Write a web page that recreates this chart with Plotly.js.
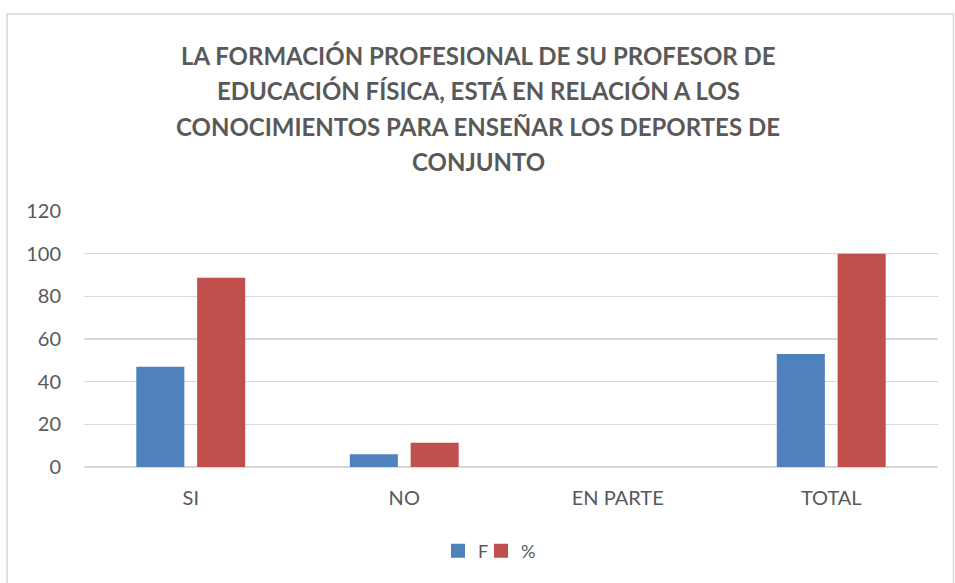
<!DOCTYPE html>
<html><head><meta charset="utf-8">
<script src="https://cdn.plot.ly/plotly-3.0.1.min.js"></script>
<style>html,body{margin:0;padding:0;background:#fff}#c{width:955px;height:583px}</style>
</head><body><div id="c"></div>
<script>
const categories = ["SI", "NO", "EN PARTE", "TOTAL"];
const seriesF = [47, 6, 0, 53];
const seriesPct = [88.68, 11.32, 0, 100];
const yTicks = [0, 20, 40, 60, 80, 100, 120];
const titleLines = [
  "LA FORMACIÓN PROFESIONAL DE SU PROFESOR DE",
  "EDUCACIÓN FÍSICA, ESTÁ EN RELACIÓN A LOS",
  "CONOCIMIENTOS PARA ENSEÑAR LOS DEPORTES DE",
  "CONJUNTO"
];

const font = "Lato, 'Open Sans', sans-serif";
const txt = "#595959";
const blue = "#4f81bd", red = "#c0504d";
const data = [
  {type: "bar", name: "F", x: categories, y: seriesF, marker: {color: blue}, showlegend: false},
  {type: "bar", name: "%", x: categories, y: seriesPct, marker: {color: red}, showlegend: false},
  {type: "scatter", mode: "markers", name: "F", x: [null], y: [null], legend: "legend", marker: {symbol: "square", size: 14, color: blue}},
  {type: "scatter", mode: "markers", name: "%", x: [null], y: [null], legend: "legend2", marker: {symbol: "square", size: 14, color: red}}
];
const lineY = [55, 90.5, 126, 161.5];
const annotations = titleLines.map((t, i) => ({
  text: "<b>" + t + "</b>", xref: "paper", yref: "paper",
  x: (478-84)/854, y: (467 - lineY[i])/256, xanchor: "center", yanchor: "middle",
  showarrow: false, font: {family: font, size: 24, color: txt}
}));
const legendBase = {
  orientation: "h", xanchor: "left", y: (467-551)/256, yanchor: "middle",
  font: {family: font, size: 18, color: txt}, itemwidth: 30, bgcolor: "rgba(0,0,0,0)"
};
const layout = {
  width: 955, height: 583,
  margin: {l: 84, r: 17, t: 211, b: 116},
  paper_bgcolor: "#fff", plot_bgcolor: "#fff",
  font: {family: font, color: txt},
  barmode: "group", bargap: 0.43, bargroupgap: 0.21,
  xaxis: {
    type: "category", showgrid: false, zeroline: false, showline: false,
    ticks: "outside", ticklen: 13, tickcolor: "rgba(0,0,0,0)",
    tickfont: {family: font, size: 20, color: txt}
  },
  yaxis: {
    range: [0, 120], tickvals: yTicks, showgrid: true, gridcolor: "#d9d9d9", gridwidth: 1.5,
    zeroline: true, zerolinecolor: "#d9d9d9", zerolinewidth: 1.5, showline: false,
    ticks: "outside", ticklen: 18, tickcolor: "rgba(0,0,0,0)",
    tickfont: {family: font, size: 20, color: txt}
  },
  legend: Object.assign({}, legendBase, {x: (438-84)/854}),
  legend2: Object.assign({}, legendBase, {x: (481-84)/854}),
  annotations: annotations,
  shapes: [{
    type: "rect", xref: "paper", yref: "paper",
    x0: (7-84)/854, x1: (953.5-84)/854, y0: (467-600)/256, y1: (467-14)/256,
    line: {color: "#d9d9d9", width: 1.5}, fillcolor: "rgba(0,0,0,0)", layer: "below"
  }],
  showlegend: true
};
Plotly.newPlot("c", data, layout, {displayModeBar: false, staticPlot: true});
</script></body></html>
